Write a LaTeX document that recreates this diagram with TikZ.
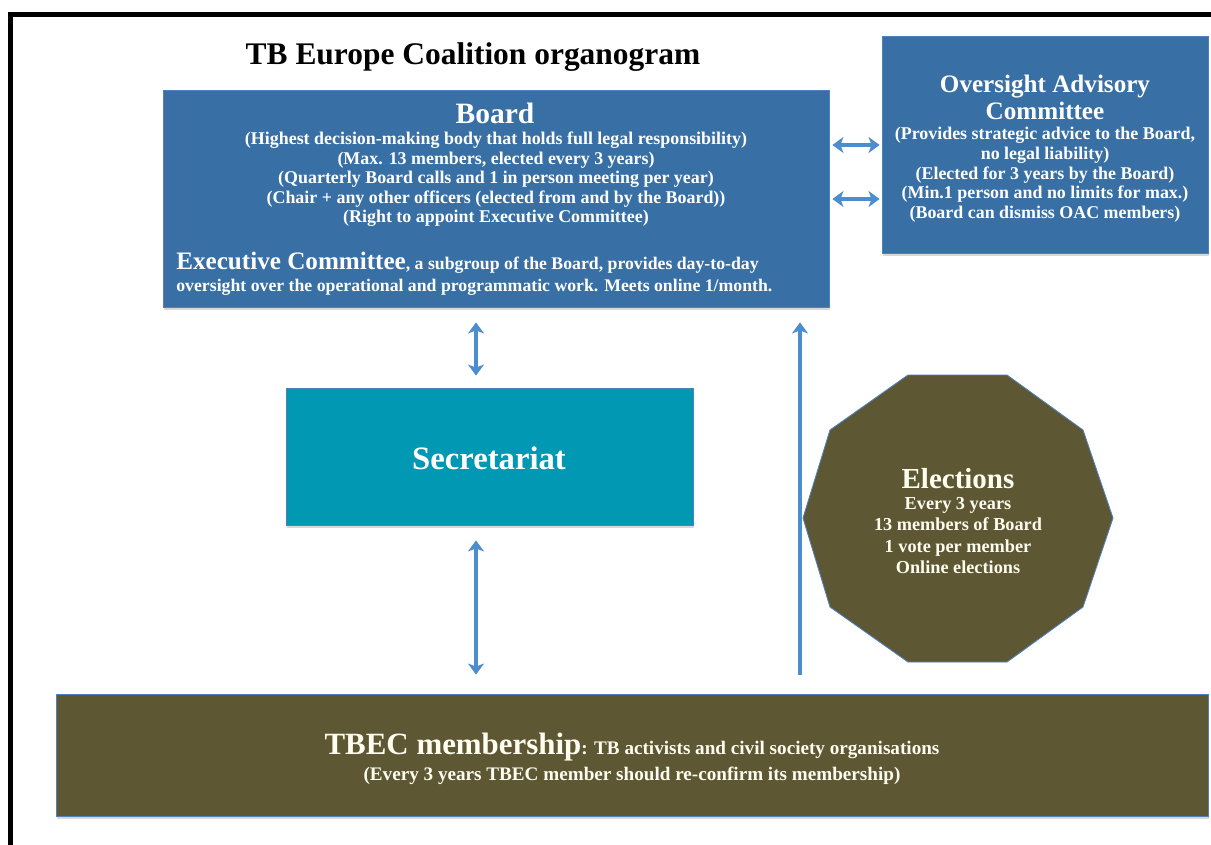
\documentclass[tikz,border=0pt]{standalone}
\usepackage{fontspec}
\setmainfont{Liberation Serif}
\usetikzlibrary{arrows.meta,fit,shadows}
\definecolor{boardblue}{RGB}{56,112,165}
\definecolor{secteal}{RGB}{0,152,178}
\definecolor{olive}{RGB}{93,87,52}
\definecolor{arrowblue}{RGB}{76,141,207}
\definecolor{edgeblue}{RGB}{79,129,189}
\definecolor{cream}{RGB}{255,253,240}
\tikzset{
  box/.style={draw=edgeblue, line width=0.5pt, inner sep=0pt,
    drop shadow={shadow xshift=0.6pt, shadow yshift=-1.8pt, opacity=0.3, fill=gray}},
  wtext/.style={text=white, inner sep=0pt},
  ctext/.style={text=cream, inner sep=0pt},
  dbl/.style={draw=arrowblue, line width=0.08cm,
    {Stealth[length=0.22cm,width=0.32cm,inset=0.06cm]}-{Stealth[length=0.22cm,width=0.32cm,inset=0.06cm]}},
  sgl/.style={draw=arrowblue, line width=0.08cm,
    -{Stealth[length=0.22cm,width=0.32cm,inset=0.06cm]}}
}
\begin{document}
\begin{tikzpicture}[x=0.02cm,y=-0.02cm]
\useasboundingbox (0,0) rectangle (1211,845);
\clip (0,0) rectangle (1211,845);
\fill[white] (0,0) rectangle (1211,845);
\draw[black, line width=0.1cm] (10.5,900) -- (10.5,14.5) -- (1300,14.5);

% title
\node[inner sep=0pt, anchor=base, font=\bfseries\fontsize{17.9}{20}\selectfont] (title) at (473,64) {TB Europe Coalition organogram};

% boxes
\node[box, fill=boardblue, fit={(163,90) (829,307)}] (board) {};
\node[box, fill=boardblue, fit={(882,36) (1208,253)}] (oac) {};
\node[box, fill=secteal, fit={(286,388) (693,525)}] (sec) {};
\node[box, fill=olive, fit={(56,694) (1208,816)}] (mem) {};
\draw[edgeblue, line width=0.5pt, fill=olive]
  (908,375) -- (1007,375) -- (1083,430) -- (1113,518) -- (1083,607)
  -- (1007,662) -- (908,662) -- (830,607) -- (803,518) -- (830,430) -- cycle;

% board text
\node[wtext, font=\bfseries\fontsize{16.8}{18}\selectfont] (boardtitle) at (495,113) {Board};
\node[wtext, align=center, font=\bfseries\fontsize{10.2}{11.1}\selectfont] (boardtext) at (496,179.5)
 {(Highest decision-making body that holds full legal responsibility)\\
  (Max. 13 members, elected every 3 years)\\
  (Quarterly Board calls and 1 in person meeting per year)\\
  (Chair + any other officers (elected from and by the Board))\\
  (Right to appoint Executive Committee)};
\node[wtext, align=left, anchor=west, font=\bfseries\fontsize{10.1}{12.5}\selectfont] (exec) at (176,274)
 {{\fontsize{14.3}{12.5}\selectfont Executive Committee}, a subgroup of the Board, provides day-to-day\\
  oversight over the operational and programmatic work. Meets online 1/month.};

% OAC text
\node[wtext, align=center, font=\bfseries\fontsize{14.3}{15.3}\selectfont] (oactitle) at (1045,97)
 {Oversight Advisory\\Committee};
\node[wtext, align=center, font=\bfseries\fontsize{10.2}{11.2}\selectfont] (oactext) at (1045,175)
 {(Provides strategic advice to the Board,\\
  no legal liability)\\
  (Elected for 3 years by the Board)\\
  (Min.1 person and no limits for max.)\\
  (Board can dismiss OAC members)};

% secretariat
\node[wtext, font=\bfseries\fontsize{18.6}{20}\selectfont] (sectext) at (489,458) {Secretariat};

% elections
\node[ctext, align=center, font=\bfseries\fontsize{10.4}{12}\selectfont] (elections) at (958,521)
 {{\fontsize{16.5}{15}\selectfont Elections}\\
  Every 3 years\\
  13 members of Board\\
  1 vote per member\\
  Online elections};

% membership
\node[ctext, font=\bfseries\fontsize{10.9}{12}\selectfont] (mem1) at (632,747)
 {{\fontsize{17.6}{18}\selectfont TBEC membership}: TB activists and civil society organisations};
\node[ctext, font=\bfseries\fontsize{10.9}{12}\selectfont] (mem2) at (632,776)
 {(Every 3 years TBEC member should re-confirm its membership)};

% connectors
\coordinate (a1) at (0,145);
\coordinate (a2) at (0,199);
\coordinate (xs) at (476,0);
\coordinate (xe) at (800,0);
\draw[dbl, shorten <=0.06cm, shorten >=0.04cm] (board.east |- a1) -- (oac.west |- a1);
\draw[dbl, shorten <=0.06cm, shorten >=0.04cm] (board.east |- a2) -- (oac.west |- a2);
\draw[dbl, shorten <=0.3cm, shorten >=0.24cm] (board.south -| xs) -- (sec.north -| xs);
\draw[dbl, shorten <=0.3cm, shorten >=0.38cm] (sec.south -| xs) -- (mem.north -| xs);
\draw[sgl, shorten <=0.38cm, shorten >=0.3cm] (mem.north -| xe) -- (board.south -| xe);
\end{tikzpicture}
\end{document}
